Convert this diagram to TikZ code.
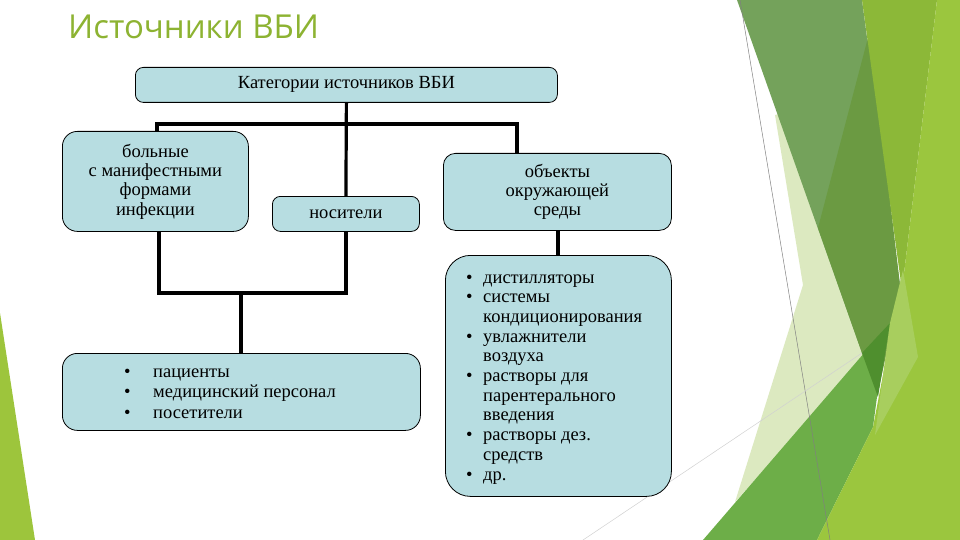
\documentclass[tikz,border=0pt]{standalone}
\usepackage{fontspec}
\setmainfont{Liberation Serif}
\newfontfamily\titlefont{Open Sans}
\definecolor{boxblue}{HTML}{B7DDE1}
\definecolor{titlegreen}{HTML}{8DB332}
\definecolor{mutedgreen}{HTML}{74A25B}
\definecolor{darkgreen}{HTML}{6B9A42}
\definecolor{deepgreen}{HTML}{4F8F2E}
\definecolor{limegreen}{HTML}{8CB838}
\definecolor{lightlime}{HTML}{9BC63E}
\definecolor{medgreen}{HTML}{6DAE48}
\definecolor{palegreen}{HTML}{DCE9C0}
\definecolor{sliver}{HTML}{A8CE5E}
\definecolor{lefttri}{HTML}{9DC53C}
\tikzset{
  box/.style={draw=black, line width=0.8pt, fill=boxblue, anchor=north west,
    inner sep=0pt, align=center, font=\fontsize{18.5}{19.3}\selectfont},
  conn/.style={line width=3.2pt, line join=miter},
  item/.style={anchor=base west, inner sep=0pt, font=\fontsize{18.5}{19.5}\selectfont}
}
\newcommand{\bulA}{\makebox[29pt][l]{\textbullet}}
\newcommand{\bulB}{\makebox[17pt][l]{\textbullet}}
\begin{document}
\begin{tikzpicture}[x=1pt,y=-1pt]
\useasboundingbox (0,0) rectangle (960,540);
\fill[white] (0,0) rectangle (960,540);
% background decoration
\fill[lefttri] (0,313) -- (35,540) -- (0,540) -- cycle;
\fill[palegreen] (775,115) -- (803,285) -- (735,502) -- (880,340) -- (836,100) -- cycle;
\fill[mutedgreen] (737,0) -- (862,0) -- (900,285) -- (862,353) -- cycle;
\fill[darkgreen] (870,30) -- (818,228) -- (862,353) -- (877,397) -- (893,323) -- (900,285) -- cycle;
\fill[limegreen] (862,0) -- (937,0) -- (902,290) -- cycle;
\fill[medgreen] (703,540) -- (890,323) -- (877,397) -- (873,427) -- (817,540) -- cycle;
\fill[deepgreen] (862,353) -- (890,323) -- (878,397) -- cycle;
\fill[lightlime] (937,0) -- (960,0) -- (960,540) -- (817,540) -- (873,427) -- (893,323) -- (902,290) -- cycle;
\fill[sliver] (903,270) -- (918,357) -- (875,435) -- (890,323) -- cycle;
\draw[gray, line width=0.5pt] (740,0) -- (830,540);
\draw[black!18, line width=0.5pt] (583,540) -- (862,353);
% title
\node[anchor=base west, inner sep=0pt, text=titlegreen, font=\titlefont\fontsize{33}{38}\selectfont] (title) at (68,39) {Источники ВБИ};
% boxes
\node[box, rounded corners=8pt, minimum width=422pt, minimum height=35pt] (top) at (135,67) {Категории источников ВБИ};
\node[box, rounded corners=15pt, minimum width=186pt, minimum height=100pt] (sick) at (62,131) {больные\\с манифестными\\формами\\инфекции};
\node[box, rounded corners=8pt, minimum width=147pt, minimum height=35pt] (carrier) at (272,196) {носители};
\node[box, rounded corners=12pt, minimum width=228pt, minimum height=77pt] (env) at (443,153) {объекты\\окружающей\\среды};
\node[box, rounded corners=25pt, minimum width=226pt, minimum height=241pt] (envlist) at (445,255) {};
\node[box, rounded corners=15pt, minimum width=358pt, minimum height=77pt] (people) at (62,353) {};
% list items
\node[item] (p1) at (124,377) {\bulA пациенты};
\node[item] (p2) at (124,397.5) {\bulA медицинский персонал};
\node[item] (p3) at (124,418) {\bulA посетители};
\node[item] (e1) at (466,283) {\bulB дистилляторы};
\node[item] (e2) at (466,302.7) {\bulB системы};
\node[item] (e3) at (466,322.4) {\hspace*{17pt}кондиционирования};
\node[item] (e4) at (466,342.1) {\bulB увлажнители};
\node[item] (e5) at (466,361.8) {\hspace*{17pt}воздуха};
\node[item] (e6) at (466,381.5) {\bulB растворы для};
\node[item] (e7) at (466,401.2) {\hspace*{17pt}парентерального};
\node[item] (e8) at (466,420.9) {\hspace*{17pt}введения};
\node[item] (e9) at (466,440.6) {\bulB растворы дез.};
\node[item] (e10) at (466,460.3) {\hspace*{17pt}средств};
\node[item] (e11) at (466,480) {\bulB др.};
% connectors
\coordinate (busL) at (157,124);
\coordinate (busR) at (517,124);
\coordinate (lowL) at (159,293);
\coordinate (lowM) at (241,293);
\draw[conn] (top.south) -- (carrier.north);
\draw[conn] (busL |- sick.north) -- (busL) -- (busR) -- (busR |- env.north);
\draw[conn] (lowL |- sick.south) -- (lowL) -- (carrier.south |- lowL) -- (carrier.south);
\draw[conn] (lowM) -- (lowM |- people.north);
\draw[conn] (env.south -| 558,0) -- (envlist.north -| 558,0);
\end{tikzpicture}
\end{document}
